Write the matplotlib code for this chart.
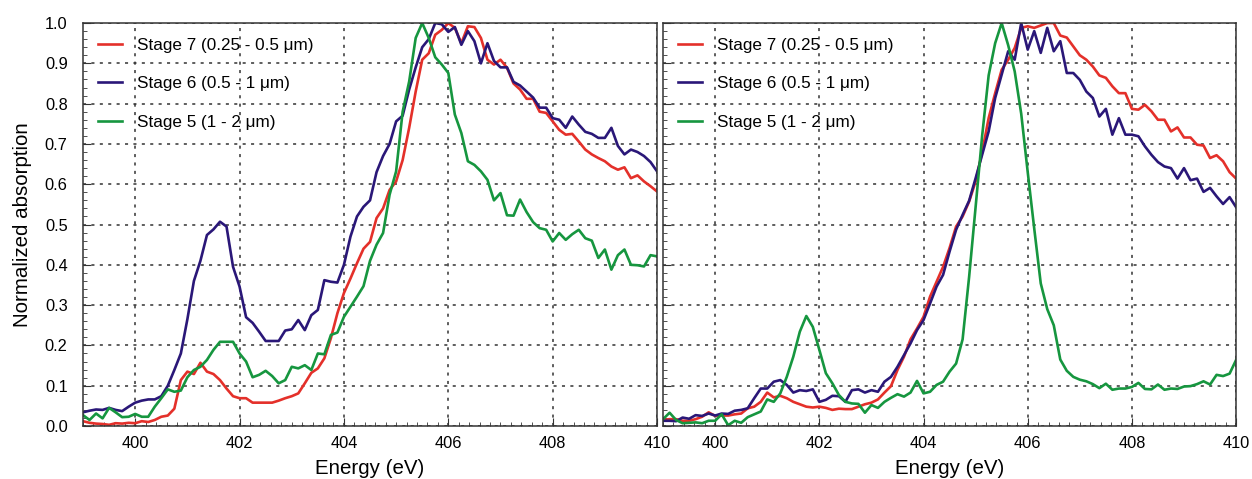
import numpy as np
import matplotlib
matplotlib.use('Agg')
import matplotlib.pyplot as plt
from matplotlib.ticker import MultipleLocator

plt.rcParams['font.family'] = ['Liberation Sans', 'DejaVu Sans']

# photon energy grid (eV), one point every 0.125 eV
energy = np.linspace(399, 410, 89)

labels = ['Stage 7 (0.25 - 0.5 \u03bcm)', 'Stage 6 (0.5 - 1 \u03bcm)', 'Stage 5 (1 - 2 \u03bcm)']
colors = ['#e4302a', '#2a1778', '#16963f']

# left panel
left_stage7 = [0.012, 0.008, 0.006, 0.005, 0.003, 0.007, 0.006, 0.008, 0.007, 0.012,
               0.01, 0.015, 0.023, 0.026, 0.043, 0.114, 0.135, 0.129, 0.157, 0.135,
               0.129, 0.114, 0.093, 0.074, 0.069, 0.069, 0.058, 0.058, 0.058, 0.058,
               0.063, 0.069, 0.074, 0.081, 0.106, 0.132, 0.143, 0.168, 0.218, 0.28,
               0.33, 0.366, 0.404, 0.44, 0.457, 0.516, 0.54, 0.586, 0.607, 0.66,
               0.74, 0.83, 0.909, 0.925, 0.971, 0.983, 1.0, 0.988, 0.95, 0.992,
               0.99, 0.963, 0.909, 0.897, 0.909, 0.889, 0.85, 0.835, 0.812, 0.812,
               0.78, 0.777, 0.756, 0.735, 0.723, 0.725, 0.706, 0.686, 0.674, 0.665,
               0.657, 0.644, 0.636, 0.642, 0.615, 0.622, 0.607, 0.595, 0.582]
left_stage6 = [0.034, 0.038, 0.041, 0.040, 0.045, 0.040, 0.037, 0.048, 0.058, 0.063,
               0.066, 0.066, 0.074, 0.10, 0.139, 0.18, 0.265, 0.36, 0.41, 0.474,
               0.488, 0.507, 0.495, 0.395, 0.346, 0.27, 0.256, 0.234, 0.211, 0.211,
               0.211, 0.237, 0.24, 0.263, 0.238, 0.275, 0.288, 0.362, 0.358, 0.356,
               0.40, 0.47, 0.52, 0.544, 0.56, 0.63, 0.67, 0.70, 0.756, 0.77,
               0.835, 0.89, 0.94, 0.96, 1.0, 0.997, 0.978, 0.99, 0.946, 0.98,
               0.955, 0.90, 0.95, 0.906, 0.89, 0.89, 0.854, 0.845, 0.83, 0.815,
               0.79, 0.79, 0.764, 0.76, 0.74, 0.768, 0.748, 0.73, 0.725, 0.715,
               0.715, 0.74, 0.695, 0.674, 0.686, 0.68, 0.67, 0.655, 0.632]
left_stage5 = [0.027, 0.015, 0.031, 0.019, 0.045, 0.034, 0.022, 0.023, 0.03, 0.023,
               0.023, 0.048, 0.069, 0.091, 0.085, 0.088, 0.121, 0.139, 0.147, 0.164,
               0.189, 0.209, 0.209, 0.209, 0.18, 0.16, 0.121, 0.127, 0.137, 0.124,
               0.106, 0.114, 0.147, 0.143, 0.151, 0.139, 0.18, 0.178, 0.226, 0.232,
               0.271, 0.296, 0.321, 0.347, 0.41, 0.45, 0.479, 0.574, 0.632, 0.78,
               0.855, 0.963, 1.0, 0.963, 0.915, 0.897, 0.876, 0.773, 0.727, 0.657,
               0.648, 0.632, 0.611, 0.56, 0.578, 0.523, 0.522, 0.562, 0.531, 0.506,
               0.491, 0.487, 0.458, 0.479, 0.462, 0.476, 0.487, 0.466, 0.46, 0.417,
               0.438, 0.388, 0.424, 0.438, 0.40, 0.399, 0.396, 0.424, 0.421]

# right panel
right_stage7 = [0.015, 0.017, 0.017, 0.013, 0.013, 0.017, 0.023, 0.034, 0.025, 0.026,
                0.026, 0.029, 0.031, 0.044, 0.048, 0.06, 0.083, 0.071, 0.075, 0.069,
                0.06, 0.054, 0.048, 0.046, 0.048, 0.045, 0.04, 0.043, 0.042, 0.042,
                0.048, 0.054, 0.058, 0.066, 0.083, 0.099, 0.139, 0.172, 0.215, 0.242,
                0.271, 0.321, 0.358, 0.395, 0.442, 0.495, 0.52, 0.557, 0.607, 0.68,
                0.764, 0.826, 0.884, 0.909, 0.938, 0.988, 0.992, 0.988, 0.994, 1.0,
                1.0, 0.969, 0.964, 0.942, 0.92, 0.909, 0.892, 0.87, 0.864, 0.843,
                0.826, 0.826, 0.787, 0.785, 0.797, 0.781, 0.76, 0.76, 0.731, 0.741,
                0.716, 0.716, 0.698, 0.696, 0.665, 0.672, 0.657, 0.63, 0.614]
right_stage6 = [0.013, 0.013, 0.012, 0.021, 0.018, 0.027, 0.025, 0.031, 0.026, 0.031,
                0.03, 0.038, 0.04, 0.044, 0.069, 0.093, 0.093, 0.11, 0.114, 0.102,
                0.083, 0.089, 0.087, 0.091, 0.06, 0.065, 0.075, 0.074, 0.06, 0.089,
                0.091, 0.083, 0.089, 0.085, 0.11, 0.122, 0.147, 0.176, 0.205, 0.238,
                0.263, 0.304, 0.346, 0.375, 0.433, 0.487, 0.524, 0.559, 0.615, 0.673,
                0.731, 0.814, 0.872, 0.93, 0.909, 1.0, 0.934, 0.98, 0.926, 0.988,
                0.93, 0.955, 0.876, 0.876, 0.859, 0.83, 0.814, 0.768, 0.787, 0.723,
                0.764, 0.723, 0.723, 0.719, 0.694, 0.673, 0.655, 0.644, 0.64, 0.614,
                0.64, 0.61, 0.614, 0.581, 0.591, 0.57, 0.551, 0.568, 0.543]
right_stage5 = [0.017, 0.033, 0.015, 0.007, 0.008, 0.009, 0.007, 0.013, 0.013, 0.029,
                0.002, 0.013, 0.008, 0.022, 0.029, 0.036, 0.066, 0.06, 0.081, 0.122,
                0.172, 0.234, 0.273, 0.246, 0.189, 0.131, 0.106, 0.077, 0.06, 0.056,
                0.055, 0.033, 0.052, 0.045, 0.06, 0.07, 0.079, 0.073, 0.083, 0.112,
                0.081, 0.085, 0.102, 0.11, 0.135, 0.155, 0.215, 0.37, 0.544, 0.72,
                0.87, 0.95, 1.0, 0.945, 0.88, 0.775, 0.63, 0.49, 0.354, 0.29,
                0.25, 0.165, 0.137, 0.122, 0.115, 0.111, 0.104, 0.094, 0.105, 0.09,
                0.093, 0.093, 0.097, 0.107, 0.092, 0.091, 0.103, 0.09, 0.093, 0.092,
                0.098, 0.099, 0.104, 0.111, 0.103, 0.127, 0.124, 0.13, 0.164]


def draw_panel(ax, series, show_ylabels):
    for values, label, color in zip(series, labels, colors):
        ax.plot(energy, values, color=color, lw=1.9, label=label)

    ax.set_xlim(399, 410)
    ax.set_ylim(0, 1.0)
    ax.xaxis.set_major_locator(MultipleLocator(2))
    ax.xaxis.set_minor_locator(MultipleLocator(0.2))
    ax.yaxis.set_major_locator(MultipleLocator(0.1))
    ax.yaxis.set_minor_locator(MultipleLocator(0.02))
    ax.tick_params(which='both', direction='in', labelsize=11.8, color='#333333')
    ax.tick_params(which='major', length=6)
    ax.tick_params(which='minor', length=3)
    ax.tick_params(axis='x', which='major', pad=7)
    ax.tick_params(axis='y', which='major', pad=11)
    ax.grid(True, which='major', color='#333333', linestyle=(0, (2, 3.5)), lw=1.1)
    for sp in ax.spines.values():
        sp.set_color('#333333')
        sp.set_linewidth(1.1)

    if show_ylabels:
        ax.yaxis.set_major_formatter(plt.FuncFormatter(lambda v, p: '%.1f' % v))
        ax.set_ylabel('Normalized absorption', fontsize=14.8, labelpad=9)
    else:
        ax.tick_params(axis='y', labelleft=False)
    ax.set_xlabel('Energy (eV)', fontsize=14.8, labelpad=6)

    ax.legend(loc='upper left', frameon=False, fontsize=12.3, handlelength=1.45,
              handletextpad=0.88, labelspacing=1.4, borderaxespad=0.45,
              bbox_to_anchor=(0.0, 1.0))


fig = plt.figure(figsize=(12.52, 4.79), dpi=100)
ax_left = fig.add_axes([0.0663, 0.1106, 0.4585, 0.8413])
ax_right = fig.add_axes([0.5296, 0.1106, 0.4577, 0.8413])

draw_panel(ax_left, [left_stage7, left_stage6, left_stage5], True)
draw_panel(ax_right, [right_stage7, right_stage6, right_stage5], False)

fig.savefig('out.png', dpi=100)
